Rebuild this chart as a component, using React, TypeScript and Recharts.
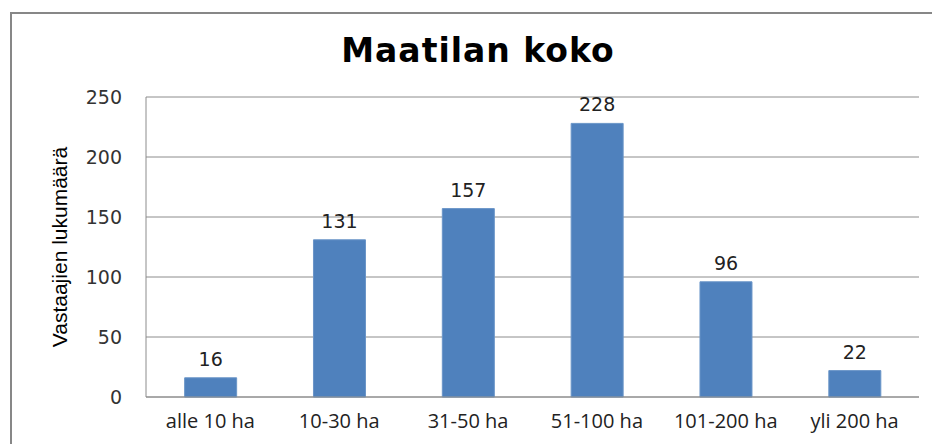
import { Bar, BarChart, CartesianGrid, LabelList, XAxis, YAxis } from 'recharts'

const categories = ['alle 10 ha', '10-30 ha', '31-50 ha', '51-100 ha', '101-200 ha', 'yli 200 ha']
const counts = [16, 131, 157, 228, 96, 22]
const yTicks = [0, 50, 100, 150, 200, 250]

const data = categories.map((name, i) => ({ name, value: counts[i] }))

export default function App() {
  return (
    <div style={{ position: 'fixed', left: 0, top: 0, width: 932, height: 444, overflow: 'hidden', background: '#fff' }}>
      <div
        style={{
          position: 'absolute',
          left: 10,
          top: 12,
          width: 940,
          height: 450,
          borderLeft: '2px solid #878787',
          borderTop: '2px solid #878787',
        }}
      />
      <div
        style={{
          position: 'absolute',
          left: 478,
          top: 30,
          transform: 'translateX(-50%)',
          fontFamily: 'DejaVu Sans, sans-serif',
          fontWeight: 700,
          fontSize: 33,
          letterSpacing: 1,
          lineHeight: '42px',
          whiteSpace: 'nowrap',
          color: '#000',
        }}
      >
        Maatilan koko
      </div>
      <div style={{ position: 'absolute', left: 0, top: 0 }}>
        <BarChart width={932} height={444} data={data} margin={{ top: 97, right: 13, bottom: 17, left: 0 }} barCategoryGap="30%">
          <CartesianGrid vertical={false} stroke="#8c8c8c" />
          <XAxis
            dataKey="name"
            height={30}
            tickLine={false}
            tickSize={0}
            tickMargin={17}
            axisLine={{ stroke: '#8c8c8c' }}
            tick={{ fontFamily: 'Open Sans, sans-serif', fontSize: 20, fill: '#222' }}
            interval={0}
          />
          <YAxis
            width={146}
            domain={[0, 250]}
            ticks={yTicks}
            tickLine={false}
            tickSize={0}
            tickMargin={24}
            axisLine={{ stroke: '#8c8c8c' }}
            tick={{ fontFamily: 'DejaVu Sans, sans-serif', fontSize: 19, fill: '#333' }}
            label={{
              value: 'Vastaajien lukumäärä',
              angle: -90,
              position: 'center',
              dx: -13,
              style: { fontFamily: 'Liberation Sans, sans-serif', fontSize: 21, fill: '#000', textAnchor: 'middle' },
            }}
          />
          <Bar dataKey="value" fill="#4f81bd" stroke="#6a95c8" strokeWidth={1} isAnimationActive={false}>
            <LabelList
              dataKey="value"
              position="top"
              offset={12}
              style={{ fontFamily: 'DejaVu Sans, sans-serif', fontSize: 19, fill: '#222' }}
            />
          </Bar>
        </BarChart>
      </div>
    </div>
  )
}
